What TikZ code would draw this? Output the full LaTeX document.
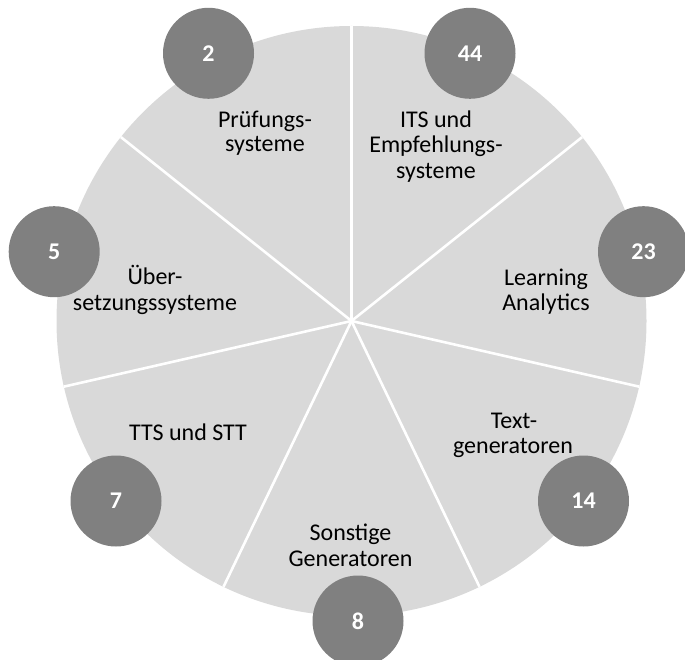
\documentclass[tikz,border=0pt]{standalone}
\usepackage{fontspec}
\setmainfont{Carlito}
\definecolor{piegray}{HTML}{D9D9D9}
\definecolor{dotgray}{HTML}{808080}
\begin{document}
\begin{tikzpicture}[x=1pt,y=-1pt,
  lbl/.style={anchor=base, inner sep=0pt, font=\fontsize{24}{25.5}\selectfont, text=black},
  num/.style={circle, fill=dotgray, minimum size=91pt, inner sep=0pt, text=white, font=\fontsize{24}{25}\selectfont\bfseries},
  sep/.style={draw=white, line width=2.6pt},
  piebg/.style={circle, fill=piegray, minimum size=590pt, inner sep=0pt}]
\useasboundingbox (0,0) rectangle (685,660);
\clip (0,0) rectangle (685,660);
\node[piebg] (pie) at (351.5,321) {};
\coordinate (c) at (351.5,321);
\foreach \i in {0,...,6} {
  \path (c) ++(-90+\i*360/7:295) coordinate (e\i);
  \draw[sep] (c) -- (e\i);
}
% labels
\node[lbl] (l1a) at (265,127.7) {Prüfungs-};
\node[lbl] (l1b) at (265,151.7) {systeme};
\node[lbl] (l2a) at (436,127.7) {ITS und};
\node[lbl] (l2b) at (436,152.9) {Empfehlungs-};
\node[lbl] (l2c) at (436,178.3) {systeme};
\node[lbl] (l3a) at (546,286) {Learning};
\node[lbl] (l3b) at (546,310.5) {Analytics};
\node[lbl] (l4a) at (514,428.3) {Text-};
\node[lbl] (l4b) at (513,453.3) {generatoren};
\node[lbl] (l5a) at (350.5,540.7) {Sonstige};
\node[lbl] (l5b) at (350.5,566) {Generatoren};
\node[lbl] (l6a) at (188,440.7) {TTS und STT};
\node[lbl] (l7a) at (155,284.3) {Über-};
\node[lbl] (l7b) at (155,310) {setzungssysteme};
% number circles
\node[num] (n2) at (208.5,53.3) {2};
\node[num] (n44) at (470,53.3) {44};
\node[num] (n23) at (643.5,251.7) {23};
\node[num] (n14) at (583.5,501) {14};
\node[num] (n8) at (358,621) {8};
\node[num] (n7) at (116,501) {7};
\node[num] (n5) at (54.2,251.7) {5};
\end{tikzpicture}
\end{document}
